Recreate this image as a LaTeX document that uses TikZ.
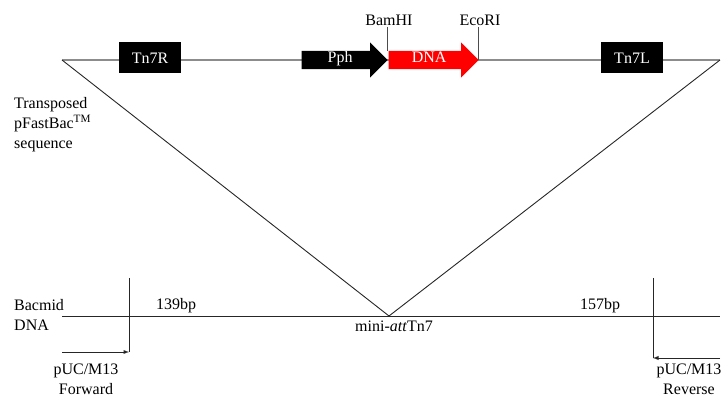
\documentclass[tikz,border=0pt]{standalone}
\usepackage{fontspec}
\setmainfont{Liberation Serif}
\usetikzlibrary{shapes.arrows}

\tikzset{
  gene/.style={rectangle, fill=black, text=white, minimum width=62pt, minimum height=31pt, inner sep=0pt},
  orf/.style={single arrow, single arrow head extend=8.5pt, single arrow head indent=0pt, minimum width=35pt,
    text=white, inner xsep=0pt, inner ysep=3pt, text height=9pt, text depth=3pt, anchor=tip},
  site/.style={inner sep=1pt, anchor=south},
  lbl/.style={inner sep=0pt, anchor=base},
  primer/.style={inner sep=0pt, anchor=north, align=center},
}

\begin{document}
\begin{tikzpicture}[x=1pt, y=-1pt, font=\fontsize{16}{20}\selectfont]
    \useasboundingbox (0,0) rectangle (724,403);

    % transposed insert
    \coordinate (l) at (62,60);
    \coordinate (r) at (720,60);
    \coordinate (att) at (389,316);
    \draw[black!45, line width=1.2pt] (l) -- (r);
    \draw[black!85, line width=0.9pt] (l) -- (att) -- (r);

    \node[gene] (tn7r) at (150,58) {Tn7R};
    \node[gene] (tn7l) at (632,58) {Tn7L};
    \node[orf, fill=black, minimum height=86pt] (pph) at (388,60) {Pph};
    \node[orf, fill=red, minimum height=90pt] (dna) at (479,60) {DNA};

    \node[site] (bam) at (389,27) {BamHI};
    \node[site] (eco) at (480,27) {EcoRI};
    \coordinate (bamcut) at (387,51);
    \coordinate (ecocut) at (478,60);
    \draw[black!70, line width=0.8pt] (bamcut |- bam.south) -- (bamcut);
    \draw[black!70, line width=0.8pt] (ecocut |- eco.south) -- (ecocut);

    \node[inner sep=0pt, anchor=north west, align=left] (tp) at (14,97)
        {Transposed\\pFastBac\textsuperscript{TM}\\sequence};

    % bacmid
    \coordinate (bl) at (62,316);
    \coordinate (br) at (720,316);
    \draw[black!85, line width=0.9pt] (bl) -- (br);
    \node[inner sep=0pt, anchor=north west, align=left] (bac) at (14,299) {Bacmid\\DNA};
    \node[lbl] (bp1) at (176,310) {139bp};
    \node[lbl] (bp2) at (600,310) {157bp};
    \node[lbl] (mini) at (394,332) {mini-\textit{att}Tn7};

    % primers
    \coordinate (fwtop) at (129,278);
    \coordinate (fwend) at (129,352);
    \coordinate (fwstart) at (62,352);
    \coordinate (rvtop) at (653,278);
    \coordinate (rvend) at (653,358);
    \coordinate (rvstart) at (720,358);
    \draw[black!85, line width=0.9pt] (fwtop) -- (fwend);
    \draw[black!85, line width=0.9pt, -latex] (fwstart) -- (fwend);
    \draw[black!85, line width=0.9pt] (rvtop) -- (rvend);
    \draw[black!85, line width=0.9pt, -latex] (rvstart) -- (rvend);

    \node[primer] (fw) at (86,364) {pUC/M13\\Forward};
    \node[primer] (rv) at (689,364) {pUC/M13\\Reverse};
\end{tikzpicture}
\end{document}
